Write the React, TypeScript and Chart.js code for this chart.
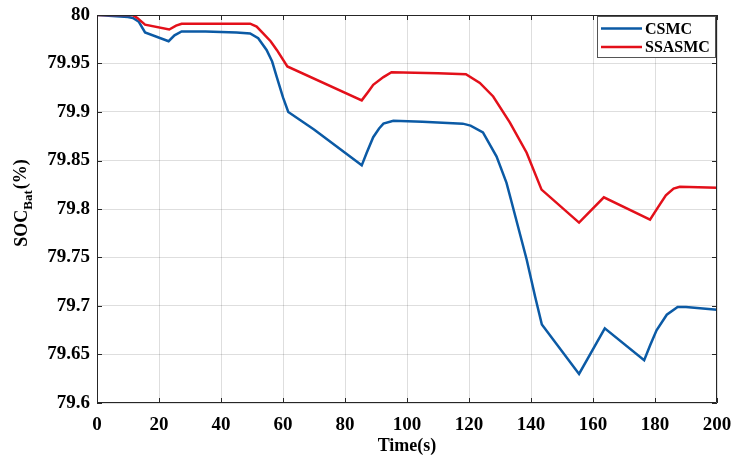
import { useEffect, useRef } from 'react';
import { Chart, registerables } from 'chart.js';

Chart.register(...registerables);

const timeCSMC = [0, 5, 10, 11.6, 13.5, 15.5, 23.1, 25, 27.3, 35, 45, 49.4, 52, 54.7, 56.5, 58, 60, 61.7, 70, 85.4, 87, 89.1, 91, 92.4, 95.6, 105, 118, 120.5, 124.5, 128.9, 132.1, 133.5, 138.6, 141.3, 143.5, 155.5, 163.8, 176.5, 178.5, 180.5, 183.8, 187.3, 190, 200];
const socCSMC = [80, 79.999, 79.998, 79.997, 79.993, 79.982, 79.973, 79.979, 79.983, 79.983, 79.982, 79.981, 79.976, 79.964, 79.952, 79.936, 79.915, 79.9, 79.882, 79.845, 79.858, 79.874, 79.883, 79.888, 79.891, 79.890, 79.888, 79.886, 79.879, 79.854, 79.827, 79.81, 79.748, 79.71, 79.681, 79.63, 79.677, 79.644, 79.66, 79.675, 79.691, 79.699, 79.699, 79.696];

const timeSSASMC = [0, 11.5, 13, 15.5, 23.3, 25.5, 27.3, 40, 49.4, 51.5, 53.6, 56, 58, 61.4, 85.4, 87.5, 89.1, 92.4, 95, 110, 119, 123.5, 127.8, 133.2, 138.6, 143.4, 155.5, 163.5, 178.4, 181, 183.5, 186, 188, 200];
const socSSASMC = [80, 80, 79.997, 79.99, 79.985, 79.989, 79.991, 79.991, 79.991, 79.988, 79.981, 79.973, 79.964, 79.947, 79.912, 79.921, 79.928, 79.936, 79.941, 79.940, 79.939, 79.93, 79.916, 79.889, 79.858, 79.82, 79.786, 79.812, 79.789, 79.802, 79.814, 79.821, 79.823, 79.822];

const xTickValues = [0, 20, 40, 60, 80, 100, 120, 140, 160, 180, 200];
const yTickValues = [79.6, 79.65, 79.7, 79.75, 79.8, 79.85, 79.9, 79.95, 80];
const seriesLabels = ['CSMC', 'SSASMC'];
const seriesColors = ['#0b5aa5', '#e3101a'];
const xTitle = 'Time(s)';
const yTitleParts = ['SOC', 'Bat', '(%)'];

const FONT = "'Liberation Serif', 'Times New Roman', serif";

const framePlugin = {
  id: 'matlabFrame',
  afterDraw(chart: any) {
    const { ctx, chartArea, scales } = chart;
    const { left, right, top, bottom } = chartArea;
    ctx.save();
    ctx.strokeStyle = '#262626';
    ctx.lineWidth = 1;
    ctx.beginPath();
    ctx.rect(left + 0.5, top + 0.5, right - left - 1, bottom - top - 1);
    ctx.stroke();
    const tl = 5;
    ctx.beginPath();
    xTickValues.forEach((v) => {
      const px = Math.round(scales.x.getPixelForValue(v)) + 0.5;
      ctx.moveTo(px, bottom);
      ctx.lineTo(px, bottom - tl);
      ctx.moveTo(px, top);
      ctx.lineTo(px, top + tl);
    });
    yTickValues.forEach((v) => {
      const py = Math.round(scales.y.getPixelForValue(v)) + 0.5;
      ctx.moveTo(left, py);
      ctx.lineTo(left + tl, py);
      ctx.moveTo(right, py);
      ctx.lineTo(right - tl, py);
    });
    ctx.stroke();

    // legend
    const bx = right - 120;
    const by = top + 1;
    const bw = 119;
    const bh = 42;
    ctx.fillStyle = '#ffffff';
    ctx.fillRect(bx, by, bw, bh);
    ctx.strokeStyle = '#555555';
    ctx.strokeRect(bx + 0.5, by + 0.5, bw - 1, bh - 1);
    ctx.font = `bold 16px ${FONT}`;
    ctx.textBaseline = 'middle';
    ctx.textAlign = 'left';
    seriesLabels.forEach((lab, i) => {
      const ly = by + 12.5 + i * 18.5;
      ctx.strokeStyle = seriesColors[i];
      ctx.lineWidth = 2.5;
      ctx.beginPath();
      ctx.moveTo(bx + 4, ly);
      ctx.lineTo(bx + 45, ly);
      ctx.stroke();
      ctx.fillStyle = '#000';
      ctx.fillText(lab, bx + 48, ly + 1);
    });

    // y title with subscript
    ctx.translate(22, (top + bottom) / 2 - 6);
    ctx.rotate(-Math.PI / 2);
    const mainFont = `bold 18px ${FONT}`;
    const subFont = `bold 13px ${FONT}`;
    ctx.font = mainFont;
    const w0 = ctx.measureText(yTitleParts[0]).width;
    const w2 = ctx.measureText(yTitleParts[2]).width;
    ctx.font = subFont;
    const w1 = ctx.measureText(yTitleParts[1]).width;
    const total = w0 + w1 + w2 + 1;
    let x = -total / 2;
    ctx.fillStyle = '#000';
    ctx.textBaseline = 'middle';
    ctx.font = mainFont;
    ctx.fillText(yTitleParts[0], x, 0);
    x += w0;
    ctx.font = subFont;
    ctx.fillText(yTitleParts[1], x, 7);
    x += w1 + 1;
    ctx.font = mainFont;
    ctx.fillText(yTitleParts[2], x, -1);
    ctx.restore();
  },
};

export default function App() {
  const ref = useRef<HTMLCanvasElement>(null);
  useEffect(() => {
    if (!ref.current) return;
    const chart = new Chart(ref.current, {
      type: 'line',
      data: {
        datasets: [
          {
            label: seriesLabels[0],
            data: timeCSMC.map((t, i) => ({ x: t, y: socCSMC[i] })),
            borderColor: seriesColors[0],
            borderWidth: 2.5,
            pointRadius: 0,
            tension: 0,
            fill: false,
            order: 1,
          },
          {
            label: seriesLabels[1],
            data: timeSSASMC.map((t, i) => ({ x: t, y: socSSASMC[i] })),
            borderColor: seriesColors[1],
            borderWidth: 2.5,
            pointRadius: 0,
            tension: 0,
            fill: false,
            order: 0,
          },
        ],
      },
      options: {
        responsive: false,
        animation: false,
        layout: { padding: { top: 15, right: 17, left: 0, bottom: 0 } },
        plugins: { legend: { display: false }, tooltip: { enabled: false } },
        scales: {
          x: {
            type: 'linear',
            min: 0,
            max: 200,
            afterBuildTicks: (s: any) => {
              s.ticks = xTickValues.map((v) => ({ value: v }));
            },
            afterFit: (s: any) => {
              s.height = 58;
              s.paddingLeft = 0;
              s.paddingRight = 0;
              s.paddingTop = 0;
              s.paddingBottom = 0;
            },
            ticks: {
              color: '#000',
              font: { family: FONT, size: 19, weight: 'bold' },
              padding: 11,
              maxRotation: 0,
              autoSkip: false,
              callback: (v: any) => String(v),
            },
            grid: { color: 'rgba(0,0,0,0.13)', drawTicks: false },
            border: { display: false },
            title: {
              display: true,
              text: xTitle,
              color: '#000',
              font: { family: FONT, size: 18, weight: 'bold' },
              padding: { top: 0, bottom: 4 },
            },
          },
          y: {
            type: 'linear',
            min: 79.6,
            max: 80,
            afterBuildTicks: (s: any) => {
              s.ticks = yTickValues.map((v) => ({ value: v }));
            },
            afterFit: (s: any) => {
              s.width = 97;
              s.paddingLeft = 0;
              s.paddingRight = 0;
              s.paddingTop = 0;
              s.paddingBottom = 0;
            },
            ticks: {
              color: '#000',
              font: { family: FONT, size: 19, weight: 'bold' },
              padding: 7,
              autoSkip: false,
              callback: (v: any) => String(Number(Number(v).toFixed(2))),
            },
            grid: { color: 'rgba(0,0,0,0.13)', drawTicks: false },
            border: { display: false },
          },
        },
      },
      plugins: [framePlugin],
    });
    return () => chart.destroy();
  }, []);
  return (
    <div style={{ position: 'absolute', left: 0, top: 0, width: 734, height: 461, background: '#fff' }}>
      <canvas ref={ref} width={734} height={461} />
    </div>
  );
}
